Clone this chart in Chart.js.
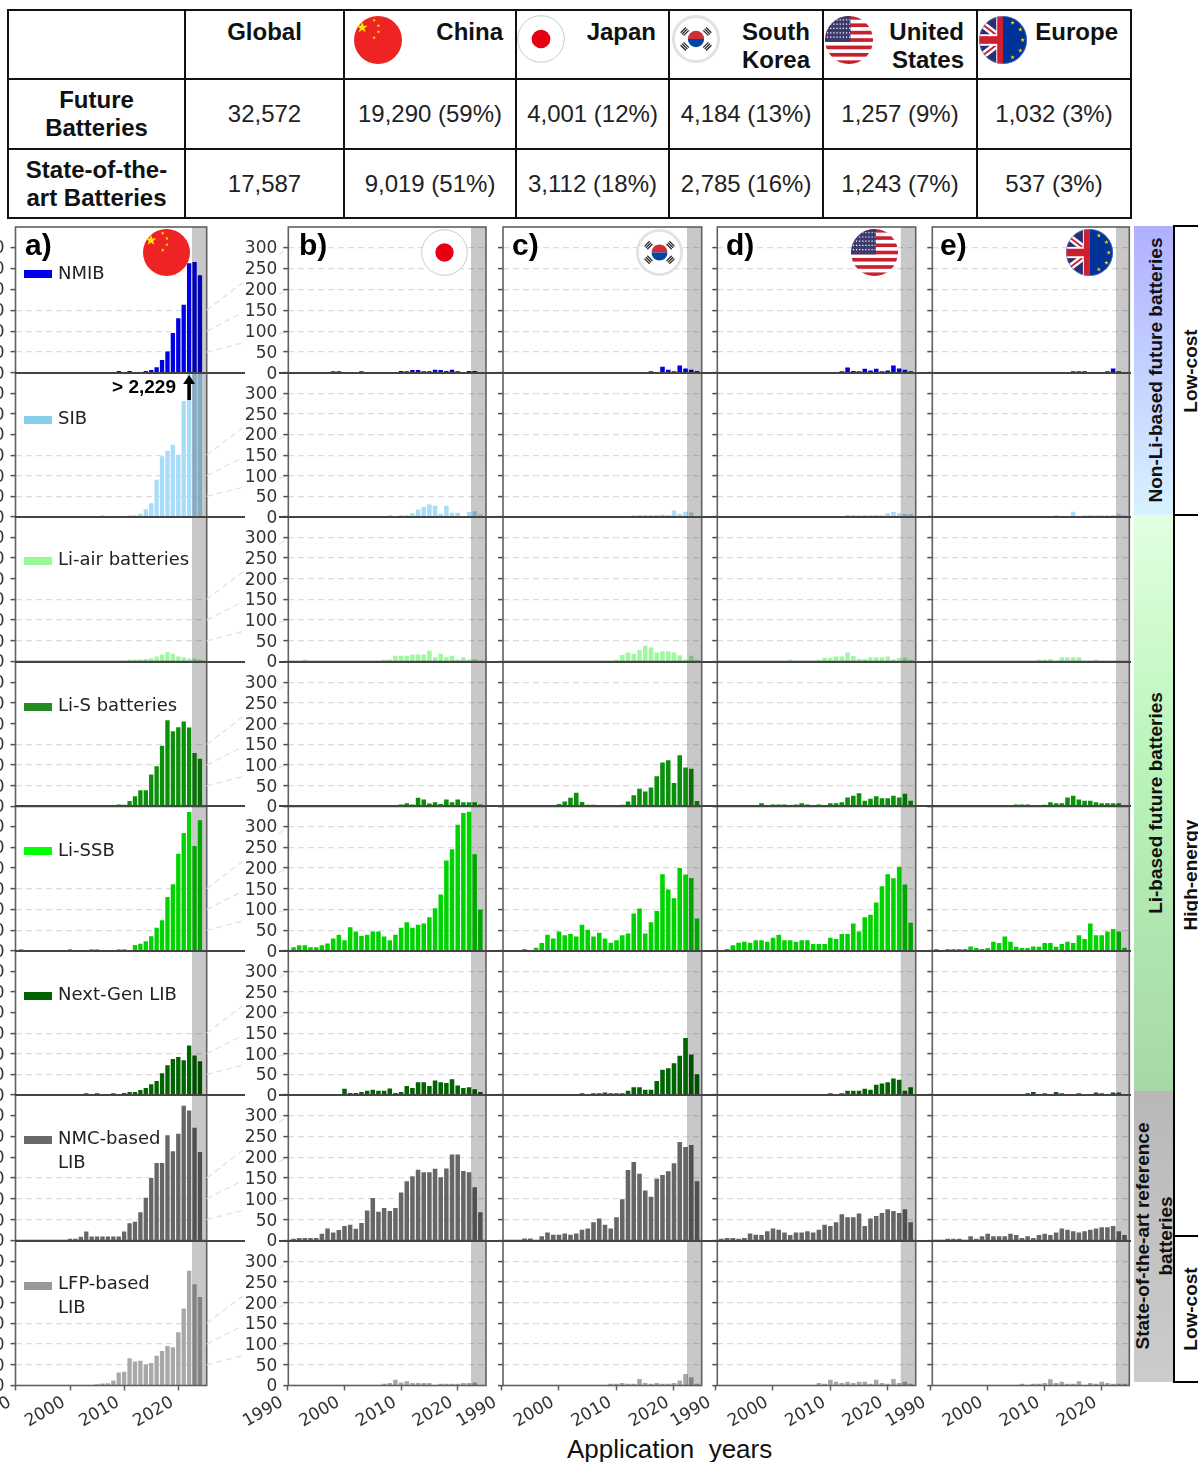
<!DOCTYPE html>
<html>
<head>
<meta charset="utf-8">
<title>Battery patent applications by region</title>
<script src="https://cdn.jsdelivr.net/npm/chart.js@4/dist/chart.umd.min.js"></script>
<style>
  html, body { margin: 0; padding: 0; background: #fff; overflow: hidden; }
  #page { position: relative; width: 1198px; height: 1462px; overflow: hidden; font-family: "Liberation Sans", sans-serif; color: #000; }
  #page canvas { position: absolute; }
  table { position: absolute; left: 7px; top: 9px; width: 1123px; height: 208px; border-collapse: collapse; table-layout: fixed; font-size: 24px; }
  td { border: 2px solid #111; padding: 0; text-align: center; line-height: 28px; color: #222; }
  td.head { font-weight: bold; color: #111; vertical-align: top; padding: 7px 12px 0 0; text-align: right; }
  td.center { text-align: center; padding-right: 0; }
  td.side { font-weight: bold; color: #111; }
  .flag { position: absolute; }
  .rule { position: absolute; background: #444; height: 2px; }
  .band { position: absolute; left: 1134px; width: 40px; }
  .line { position: absolute; background: #000; }
  .vtext { position: absolute; transform: translate(-50%, -50%) rotate(-90deg); white-space: pre; font-size: 19px; font-weight: bold; line-height: 23px; text-align: center; color: #111; }
  #xtitle { position: absolute; left: 567px; top: 1434px; font-size: 26px; white-space: pre; color: #111; }
</style>
</head>
<body>
<div id="page">
  <svg width="0" height="0" style="position:absolute">
    <defs>
      <clipPath id="disc"><circle cx="50" cy="50" r="50"/></clipPath>
      <polygon id="star" points="0,-1 .235,-.324 .951,-.309 .38,.124 .588,.809 0,.4 -.588,.809 -.38,.124 -.951,-.309 -.235,-.324"/>
      <symbol id="flag-cn" viewBox="0 0 100 100">
        <circle cx="50" cy="50" r="50" fill="#ee2424"/>
        <use href="#star" transform="translate(17,24) scale(12)" fill="#ffe600"/>
        <use href="#star" transform="translate(42,9) scale(4)" fill="#ffe600"/>
        <use href="#star" transform="translate(51,20) scale(4)" fill="#ffe600"/>
        <use href="#star" transform="translate(51,33) scale(4)" fill="#ffe600"/>
        <use href="#star" transform="translate(42,45) scale(4)" fill="#ffe600"/>
      </symbol>
      <symbol id="flag-jp" viewBox="0 0 100 100">
        <circle cx="50" cy="50" r="48.5" fill="#fff" stroke="#c8c8c8" stroke-width="2"/>
        <circle cx="50" cy="50" r="19.5" fill="#e60012"/>
      </symbol>
      <symbol id="flag-kr" viewBox="0 0 100 100">
        <circle cx="50" cy="50" r="47" fill="#fff" stroke="#e2e2e2" stroke-width="6"/>
        <path d="M33 50a17 17 0 0 1 34 0z" fill="#cd2e3a"/>
        <path d="M33 50a17 17 0 0 0 34 0z" fill="#0047a0"/>
        <g stroke="#222" stroke-width="2.6">
          <path d="M18 37l11-11M21 40l11-11M24 43l11-11"/>
          <path d="M65 32l11 11M68 29l11 11M71 26l11 11"/>
          <path d="M18 63l11 11M21 60l11 11M24 57l11 11"/>
          <path d="M65 68l11-11M68 71l11-11M71 74l11-11"/>
        </g>
      </symbol>
      <symbol id="flag-us" viewBox="0 0 100 100">
        <g clip-path="url(#disc)">
          <rect width="100" height="100" fill="#fff"/>
          <g fill="#c8202f">
            <rect y="0" width="100" height="7.7"/><rect y="15.4" width="100" height="7.7"/>
            <rect y="30.8" width="100" height="7.7"/><rect y="46.2" width="100" height="7.7"/>
            <rect y="61.6" width="100" height="7.7"/><rect y="77" width="100" height="7.7"/>
            <rect y="92.4" width="100" height="7.7"/>
          </g>
          <rect width="53" height="54" fill="#3c3b6e"/>
          <path d="M4 8H52M4 17H52M4 26H52M4 35H52M4 44H52" stroke="#fff" stroke-width="2.6" stroke-dasharray="2.6 4"/>
        </g>
      </symbol>
      <symbol id="flag-eu" viewBox="0 0 100 100">
        <g clip-path="url(#disc)">
          <rect width="50" height="100" fill="#2b2f72"/>
          <path d="M0 12L50 50M0 88L50 50" stroke="#fff" stroke-width="14"/>
          <path d="M0 12L50 50M0 88L50 50" stroke="#cf1f2e" stroke-width="4"/>
          <rect x="0" y="38" width="50" height="24" fill="#fff"/>
          <rect x="36" y="0" width="14" height="100" fill="#fff"/>
          <rect x="0" y="42" width="50" height="16" fill="#cf1f2e"/>
          <rect x="38" y="0" width="12" height="100" fill="#cf1f2e"/>
          <rect x="50" width="50" height="100" fill="#003399"/>
          <g fill="#ffcc00">
            <use href="#star" transform="translate(70,14) scale(5)"/>
            <use href="#star" transform="translate(86,28) scale(5)"/>
            <use href="#star" transform="translate(91,50) scale(5)"/>
            <use href="#star" transform="translate(86,72) scale(5)"/>
            <use href="#star" transform="translate(70,86) scale(5)"/>
          </g>
        </g>
        <circle cx="50" cy="50" r="49" fill="none" stroke="#6d8fd0" stroke-width="1"/>
      </symbol>
    </defs>
  </svg>

  <table>
    <colgroup>
      <col style="width:177px"><col style="width:159px"><col style="width:172px"><col style="width:153px">
      <col style="width:154px"><col style="width:154px"><col style="width:154px">
    </colgroup>
    <tr style="height:69px">
      <td class="head"></td><td class="head center">Global</td><td class="head">China</td><td class="head">Japan</td>
      <td class="head">South<br>Korea</td><td class="head">United<br>States</td><td class="head">Europe</td>
    </tr>
    <tr style="height:70px">
      <td class="side">Future<br>Batteries</td><td>32,572</td><td>19,290 (59%)</td><td>4,001 (12%)</td>
      <td>4,184 (13%)</td><td>1,257 (9%)</td><td>1,032 (3%)</td>
    </tr>
    <tr style="height:69px">
      <td class="side">State-of-the-<br>art Batteries</td><td>17,587</td><td>9,019 (51%)</td><td>3,112 (18%)</td>
      <td>2,785 (16%)</td><td>1,243 (7%)</td><td>537 (3%)</td>
    </tr>
  </table>

  <div class="band" style="top:226px;height:289px;background:linear-gradient(#b0b0ff,#d8f2ff)"></div>
  <div class="band" style="top:515px;height:576px;background:linear-gradient(#e2ffe2,#b8f4b8 45%,#a6d8a6)"></div>
  <div class="band" style="top:1091px;height:291px;background:linear-gradient(#b8b8b8,#cccccc)"></div>
  <div class="line" style="left:1173px;top:226px;width:2px;height:1157px"></div>
  <div class="line" style="left:1173px;top:225px;width:25px;height:2px"></div>
  <div class="line" style="left:1173px;top:514px;width:25px;height:2px"></div>
  <div class="line" style="left:1173px;top:1235px;width:25px;height:2px"></div>
  <div class="line" style="left:1173px;top:1381px;width:25px;height:2px"></div>
  <div class="vtext" style="left:1155px;top:370px">Non-Li-based future batteries</div>
  <div class="vtext" style="left:1155px;top:803px">Li-based future batteries</div>
  <div class="vtext" style="left:1154px;top:1236px">State-of-the-art reference
batteries</div>
  <div class="vtext" style="left:1190px;top:371px">Low-cost</div>
  <div class="vtext" style="left:1190px;top:875px">High-energy</div>
  <div class="vtext" style="left:1190px;top:1309px">Low-cost</div>
  <div id="xtitle">Application  years</div>
</div>

<script>
const years = [
  1990, 1991, 1992, 1993, 1994, 1995, 1996, 1997, 1998, 1999,
  2000, 2001, 2002, 2003, 2004, 2005, 2006, 2007, 2008, 2009,
  2010, 2011, 2012, 2013, 2014, 2015, 2016, 2017, 2018, 2019,
  2020, 2021, 2022, 2023, 2024];
const yearTicks = [1990, 2000, 2010, 2020];
const valueTicksChina = [0, 100, 200, 300, 400, 500, 600];
const valueTicksOther = [0, 50, 100, 150, 200, 250, 300];

// NMIB
const nmibChina = [0,0,0,0,0,0,0,0,0,0, 0,0,0,0,0,0,0,0,0,10, 0,10,0,0,10,14,27,62,103,191, 262,326,525,531,467];
const nmibJapan = [0,0,0,0,0,0,0,0,4,4, 0,0,0,4,0,0,0,0,0,0, 5,4,7,7,4,4,8,7,5,8, 4,0,5,5,0];
const nmibKorea = [0,0,0,0,0,0,0,0,0,0, 0,0,0,0,0,0,0,0,0,0, 0,0,0,0,0,0,4,0,15,8, 4,18,11,8,5];
const nmibUsa = [0,0,0,0,0,0,0,0,0,0, 0,0,0,0,0,0,0,0,0,0, 0,0,4,13,5,4,10,6,10,4, 6,18,11,8,4];
const nmibEurope = [0,0,0,0,0,0,0,0,0,0, 0,0,0,0,0,0,0,0,0,0, 0,0,0,0,0,4,4,4,0,0, 0,4,11,4,0];
// SIB
const sibChina = [0,0,0,0,0,0,0,0,0,0, 0,0,0,0,0,0,8,0,0,0, 0,8,8,16,38,67,180,294,321,350, 302,562,2229,1900,1600];
const sibJapan = [0,0,0,0,0,0,0,0,0,0, 0,0,0,0,0,0,0,0,4,0, 4,4,9,18,24,30,27,8,27,10, 10,0,12,14,6];
const sibKorea = [0,0,0,0,0,0,0,0,0,0, 0,0,0,0,0,0,0,0,0,0, 0,0,0,4,5,5,5,5,6,5, 16,8,13,11,0];
const sibUsa = [0,0,0,0,0,0,0,0,0,0, 0,0,0,0,0,0,0,0,0,0, 0,0,0,5,5,4,4,4,5,4, 9,12,9,7,7];
const sibEurope = [0,0,0,0,0,0,0,0,0,0, 0,0,0,0,0,0,0,0,0,0, 0,0,4,0,0,13,0,4,5,4, 4,4,5,8,4];
// Li-air
const liAirChina = [0,0,0,0,0,0,0,0,0,0, 0,0,0,0,0,0,0,0,0,0, 0,8,8,10,12,16,24,34,46,38, 24,20,14,14,8];
const liAirJapan = [0,0,0,4,0,0,0,0,0,0, 0,0,0,0,0,0,0,4,5,14, 14,14,17,17,17,26,10,19,10,14, 4,10,5,6,0];
const liAirKorea = [0,0,0,0,0,0,0,0,0,0, 0,0,0,0,0,0,0,0,0,0, 4,16,22,19,28,38,34,22,25,25, 22,15,4,14,4];
const liAirUsa = [0,0,0,0,0,0,0,0,0,0, 0,0,0,4,2,2,2,2,4,9, 9,12,12,22,13,6,6,10,10,10, 12,5,9,9,4];
const liAirEurope = [0,0,0,0,0,0,0,0,0,0, 0,0,0,0,0,0,0,0,0,4, 4,6,0,10,10,10,10,0,0,4, 0,0,0,0,0];
// Li-S
const liSChina = [0,0,0,0,0,0,0,0,0,0, 0,0,0,0,0,0,0,0,0,10, 8,26,50,79,79,154,194,294,417,364, 383,411,382,258,231];
const liSJapan = [0,0,0,0,0,0,0,0,0,0, 0,0,0,0,0,0,0,0,0,0, 5,8,5,21,17,7,10,6,17,10, 17,10,10,10,5];
const liSKorea = [0,0,0,0,0,0,0,0,0,0, 6,12,21,33,11,4,4,0,0,0, 0,4,12,27,43,36,46,73,106,112, 57,124,94,91,13];
const liSUsa = [0,0,0,0,0,0,0,0,8,0, 5,5,5,0,5,8,5,0,5,0, 8,8,10,22,26,32,14,19,25,20, 20,26,22,31,14];
const liSEurope = [0,0,0,0,0,0,0,0,0,0, 0,0,0,0,0,5,5,5,0,0, 4,10,8,8,22,26,17,14,14,10, 8,8,8,8,0];
// Li-SSB
const liSsbChina = [0,8,0,0,0,0,0,0,0,0, 8,0,0,0,8,8,0,0,0,8, 8,0,29,35,47,71,112,148,260,321, 468,568,669,505,629];
const liSsbJapan = [0,9,14,14,9,9,14,18,30,39, 26,57,47,36,39,47,47,35,26,39, 56,69,56,63,66,81,103,136,218,245, 304,332,335,233,99];
const liSsbKorea = [0,0,0,0,5,0,8,19,39,30, 47,38,41,35,63,51,35,44,30,20, 26,38,42,90,102,42,69,96,185,148, 127,200,184,176,78];
const liSsbUsa = [0,0,5,14,20,22,20,26,26,22, 32,39,26,26,22,26,26,17,17,17, 32,29,41,41,66,47,81,87,117,156, 185,175,203,160,68];
const liSsbEurope = [0,5,0,5,5,5,5,11,7,5, 7,22,19,35,22,10,7,7,11,10, 19,19,10,17,22,19,38,29,66,38, 38,47,53,47,8];
// Next-Gen LIB
const nextGenChina = [0,0,0,0,0,0,0,0,0,0, 0,0,0,8,0,8,0,0,8,0, 10,14,14,24,34,52,68,106,144,174, 184,168,240,192,164];
const nextGenJapan = [0,0,0,0,0,0,0,0,0,0, 15,5,5,7,10,13,10,10,16,5, 7,22,17,31,31,22,35,31,29,38, 23,17,19,14,7];
const nextGenKorea = [0,0,0,0,0,0,0,0,0,0, 0,0,0,0,4,0,4,4,6,4, 4,4,10,19,19,13,13,34,61,65, 77,95,138,98,50];
const nextGenUsa = [0,0,0,0,0,0,0,0,0,0, 0,0,0,0,0,0,0,0,0,0, 4,0,4,10,10,10,15,13,25,28, 31,40,37,10,19];
const nextGenEurope = [0,0,0,0,0,0,0,0,0,0, 0,0,0,0,0,0,0,4,7,0, 4,0,7,4,0,0,4,0,0,6, 4,0,6,6,0];
// NMC-based LIB
const nmcChina = [0,0,0,0,0,0,0,0,0,0, 8,8,18,43,19,19,19,19,19,19, 43,83,90,136,205,300,372,372,505,428, 512,647,624,541,425];
const nmcJapan = [0,4,6,6,6,6,16,29,19,25, 35,38,28,42,72,102,69,78,71,78, 115,142,154,170,164,164,172,152,173,206, 206,167,164,128,68];
const nmcKorea = [0,0,0,0,5,5,0,10,19,14, 14,17,14,17,26,29,44,53,38,29, 56,99,169,188,160,120,105,148,157,166, 185,236,224,229,142];
const nmcUsa = [0,4,6,6,4,6,17,14,13,22, 29,26,19,13,19,19,22,19,26,38, 35,44,63,56,56,65,35,53,59,66, 75,71,66,75,44];
const nmcEurope = [0,0,0,4,4,4,0,10,4,10, 16,10,10,10,16,13,6,10,6,13, 16,13,19,29,26,22,19,22,26,29, 32,32,35,22,13];
// LFP-based LIB
const lfpChina = [0,0,0,0,0,0,0,0,0,0, 0,0,0,0,0,6,10,11,24,63, 67,132,116,120,103,109,144,167,191,185, 257,372,554,489,427];
const lfpJapan = [0,0,0,0,0,0,0,0,0,0, 0,0,0,0,0,0,0,4,6,14, 7,10,6,6,6,6,0,4,4,4, 4,6,6,7,0];
const lfpKorea = [0,0,0,0,0,0,0,0,0,0, 0,0,0,0,0,0,0,0,0,4, 4,6,4,4,16,6,4,6,4,4, 6,12,28,20,4];
const lfpUsa = [0,0,0,0,0,0,0,0,0,0, 0,0,0,0,0,0,0,0,6,4, 14,9,6,9,6,9,9,4,14,6, 4,16,6,9,4];
const lfpEurope = [0,0,0,0,0,0,0,0,0,0, 0,0,0,0,0,0,4,0,4,4, 6,15,6,9,4,4,10,0,6,4, 9,6,4,4,4];

const seriesLabels = [['NMIB'], ['SIB'], ['Li-air batteries'], ['Li-S batteries'], ['Li-SSB'], ['Next-Gen LIB'], ['NMC-based', 'LIB'], ['LFP-based', 'LIB']];
const barColors = ['#0000e6', '#a8dcf8', '#a2f8a2', '#0a900a', '#00d400', '#006400', '#666666', '#a8a8a8'];
const legendColors = ['#0000ee', '#87ceeb', '#98fb98', '#228b22', '#00ff00', '#006400', '#696969', '#999999'];
const regionSeries = [
  [nmibChina, nmibJapan, nmibKorea, nmibUsa, nmibEurope],
  [sibChina, sibJapan, sibKorea, sibUsa, sibEurope],
  [liAirChina, liAirJapan, liAirKorea, liAirUsa, liAirEurope],
  [liSChina, liSJapan, liSKorea, liSUsa, liSEurope],
  [liSsbChina, liSsbJapan, liSsbKorea, liSsbUsa, liSsbEurope],
  [nextGenChina, nextGenJapan, nextGenKorea, nextGenUsa, nextGenEurope],
  [nmcChina, nmcJapan, nmcKorea, nmcUsa, nmcEurope],
  [lfpChina, lfpJapan, lfpKorea, lfpUsa, lfpEurope],
];
const panelLetters = ['a)', 'b)', 'c)', 'd)', 'e)'];

// Layout of the grid (px in the page)
const rowEdges = [227, 373, 517, 661.5, 806, 951, 1095, 1240.5, 1385];
const legendPatchY = [47, 47, 44, 45, 45, 45, 45, 45];
const legendTextY = [47, 46, 43, 44, 45, 44, 44, 43];
const columns = [
  { left: 15.5, right: 206.7, x2000: 70, x2020: 178.3, bandX: 192, canvasLeft: 0, canvasRight: 289, letterX: 25, flag: 'cn', flagX: 166 },
  { left: 288.3, right: 486, x2000: 344.5, x2020: 457.7, bandX: 471, canvasLeft: 230, canvasRight: 488, letterX: 299, flag: 'jp', flagX: 444 },
  { left: 503, right: 701.7, x2000: 559, x2020: 674, bandX: 687, canvasLeft: 450, canvasRight: 704, letterX: 512, flag: 'kr', flagX: 659 },
  { left: 717.3, right: 915.7, x2000: 773, x2020: 887.7, bandX: 900.7, canvasLeft: 665, canvasRight: 918, letterX: 726, flag: 'us', flagX: 874 },
  { left: 932.3, right: 1129.3, x2000: 987.7, x2020: 1101.7, bandX: 1116, canvasLeft: 880, canvasRight: 1132, letterX: 940, flag: 'eu', flagX: 1089 },
];
const tableFlags = [['cn', 378, 40], ['jp', 541, 39], ['kr', 696, 39], ['us', 849, 40], ['eu', 1003, 40]];

const tickFont = { family: 'DejaVu Sans', size: 17 };

// Grey band, frame, panel letter, legend entry and the zoom connectors
const panelDecor = {
  id: 'panelDecor',
  afterDatasetsDraw(chart, args, opts) {
    const { ctx, chartArea: area, scales: { x, y } } = chart;
    ctx.save();
    ctx.fillStyle = 'rgba(0,0,0,0.215)';
    ctx.fillRect(opts.bandX, area.top, area.right - opts.bandX, area.bottom - area.top);
    ctx.strokeStyle = '#606060';
    ctx.lineWidth = 1.6;
    ctx.strokeRect(area.left, area.top, area.right - area.left, area.bottom - area.top);

    if (opts.letter) {
      ctx.fillStyle = '#000';
      ctx.font = 'bold 30px "Liberation Sans"';
      ctx.textAlign = 'left';
      ctx.textBaseline = 'alphabetic';
      ctx.fillText(opts.letter, area.left + opts.letterGap, area.top + 28);
    }
    if (opts.legend) {
      const ds = chart.data.datasets[0];
      ctx.fillStyle = opts.legendColor;
      ctx.fillRect(24, area.top + opts.patchY - 4, 28, 8);
      ctx.fillStyle = '#222';
      ctx.font = '18px "DejaVu Sans"';
      ctx.textAlign = 'left';
      ctx.textBaseline = 'middle';
      ds.label.forEach((line, i) => ctx.fillText(line, 58, area.top + opts.textY + i * 24));
    }
    if (opts.arrowYear) {
      const ax = x.getPixelForValue(opts.arrowYear);
      ctx.fillStyle = '#000';
      ctx.strokeStyle = '#000';
      ctx.lineWidth = 3.5;
      ctx.beginPath();
      ctx.moveTo(ax, area.top + 27);
      ctx.lineTo(ax, area.top + 9);
      ctx.stroke();
      ctx.beginPath();
      ctx.moveTo(ax, area.top + 2);
      ctx.lineTo(ax - 6, area.top + 11);
      ctx.lineTo(ax + 6, area.top + 11);
      ctx.closePath();
      ctx.fill();
      ctx.font = 'bold 19px "Liberation Sans"';
      ctx.textAlign = 'right';
      ctx.textBaseline = 'alphabetic';
      ctx.fillText(opts.arrowText, 176, area.top + 20);
    }
    if (opts.connectToX) {
      // a panel's 100/200/300 tick leads to the 100/200/300 tick of panel b (twice the height there)
      ctx.strokeStyle = '#e0e0e0';
      ctx.lineWidth = 1.2;
      ctx.setLineDash([6, 4]);
      [100, 200, 300].forEach(v => {
        const y0 = y.getPixelForValue(v);
        const y1 = y.getPixelForValue(v * 2);
        const slope = (y1 - y0) / (opts.connectToX - area.right);
        [[area.right, 243], [279, opts.connectToX]].forEach(([a, b]) => {
          ctx.beginPath();
          ctx.moveTo(a, y0 + slope * (a - area.right));
          ctx.lineTo(b, y0 + slope * (b - area.right));
          ctx.stroke();
        });
      });
      ctx.setLineDash([]);
    }
    ctx.restore();
  },
};

const page = document.getElementById('page');

// Chart.js pads the chart area for overhanging tick labels; the grid must stay put
function dropAxisPadding(axis) {
  axis.paddingLeft = 0;
  axis.paddingRight = 0;
  axis.paddingTop = 0;
  axis.paddingBottom = 0;
}

function addPanel(rowIndex, colIndex) {
  const col = columns[colIndex];
  const top = rowEdges[rowIndex];
  const bottom = rowEdges[rowIndex + 1];
  const isChina = colIndex === 0;
  const isLastRow = rowIndex === seriesLabels.length - 1;
  const padTop = 12;
  const padBottom = 12;
  const axisHeight = 48;
  const pxPerYear = (col.x2020 - col.x2000) / 20;
  const xMin = 2000 - (col.x2000 - col.left) / pxPerYear;

  const canvas = document.createElement('canvas');
  const canvasWidth = col.canvasRight - col.canvasLeft;
  const canvasHeight = bottom - top + padTop + (isLastRow ? axisHeight : padBottom);
  canvas.width = canvasWidth;
  canvas.height = Math.ceil(canvasHeight);
  canvas.style.left = col.canvasLeft + 'px';
  canvas.style.top = (top - padTop) + 'px';
  page.appendChild(canvas);

  const yTicks = isChina ? valueTicksChina : valueTicksOther;

  new Chart(canvas, {
    type: 'bar',
    data: {
      labels: years,
      datasets: [{
        label: seriesLabels[rowIndex],
        data: regionSeries[rowIndex][colIndex],
        backgroundColor: barColors[rowIndex],
        barPercentage: 0.8,
        categoryPercentage: 1,
      }],
    },
    plugins: [panelDecor],
    options: {
      responsive: false,
      animation: false,
      devicePixelRatio: 1,
      layout: {
        autoPadding: false,
        padding: { top: padTop, bottom: isLastRow ? canvas.height - canvasHeight : canvas.height - canvasHeight + padBottom, left: 0, right: col.canvasRight - col.right },
      },
      plugins: {
        legend: { display: false },
        tooltip: { enabled: false },
        panelDecor: {
          bandX: col.bandX - col.canvasLeft,
          letter: rowIndex === 0 ? panelLetters[colIndex] : null,
          letterGap: col.letterX - col.left,
          legend: isChina,
          legendColor: legendColors[rowIndex],
          patchY: legendPatchY[rowIndex],
          textY: legendTextY[rowIndex],
          arrowYear: isChina && rowIndex === 1 ? 2022 : null,
          arrowText: '> 2,229',
          connectToX: isChina ? columns[1].left : null,
        },
      },
      scales: {
        x: {
          type: 'linear',
          display: isLastRow,
          offset: false,
          min: xMin,
          max: xMin + (col.right - col.left) / pxPerYear,
          afterBuildTicks: axis => { axis.ticks = yearTicks.map(v => ({ value: v })); },
          afterFit: axis => { axis.height = isLastRow ? axisHeight : 0; dropAxisPadding(axis); },
          border: { display: false },
          grid: { offset: false, drawOnChartArea: false, tickLength: 5, tickColor: '#606060', tickWidth: 1.5 },
          ticks: {
            autoSkip: false, minRotation: 30, maxRotation: 30, padding: 2, labelOffset: -6,
            font: tickFont, color: '#333',
            callback: v => String(v),
          },
        },
        y: {
          min: 0,
          max: isChina ? 698 : 349,
          afterBuildTicks: axis => { axis.ticks = yTicks.map(v => ({ value: v })); },
          afterFit: axis => { axis.width = col.left - col.canvasLeft; dropAxisPadding(axis); },
          border: { display: false, dash: [6, 4] },
          grid: {
            color: c => (c.tick.value === 0 || (isChina && c.tick.value > 300) ? 'transparent' : '#dcdcdc'),
            lineWidth: 1.2,
            tickLength: 5,
            tickColor: '#505050',
            tickWidth: 1.5,
            tickBorderDash: [],
          },
          ticks: {
            display: colIndex < 2,
            autoSkip: false,
            padding: 6,
            labelOffset: 1.5,
            font: tickFont,
            color: '#333',
          },
        },
      },
    },
  });
}

seriesLabels.forEach((_, r) => columns.forEach((_, c) => addPanel(r, c)));

// Row separators run across all panels, with a gap for the labels of panel b
rowEdges.slice(1, -1).forEach(edge => {
  [[15, 245], [279, 1131]].forEach(([from, to]) => {
    const rule = document.createElement('div');
    rule.className = 'rule';
    rule.style.left = from + 'px';
    rule.style.width = (to - from) + 'px';
    rule.style.top = (edge - 1) + 'px';
    page.appendChild(rule);
  });
});

function addFlag(name, cx, cy, r) {
  const ns = 'http://www.w3.org/2000/svg';
  const svg = document.createElementNS(ns, 'svg');
  svg.setAttribute('class', 'flag');
  svg.setAttribute('width', r * 2);
  svg.setAttribute('height', r * 2);
  svg.style.left = (cx - r) + 'px';
  svg.style.top = (cy - r) + 'px';
  const use = document.createElementNS(ns, 'use');
  use.setAttribute('href', '#flag-' + name);
  use.setAttribute('width', r * 2);
  use.setAttribute('height', r * 2);
  svg.appendChild(use);
  page.appendChild(svg);
}
columns.forEach(col => addFlag(col.flag, col.flagX, 252, 23.5));
tableFlags.forEach(([name, cx, cy]) => addFlag(name, cx, cy, 24));
</script>
</body>
</html>
